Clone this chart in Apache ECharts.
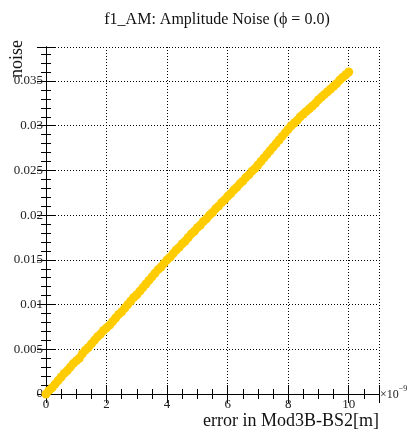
<!DOCTYPE html>
<html>
<head>
<meta charset="utf-8">
<script src="https://cdn.jsdelivr.net/npm/echarts@6/dist/echarts.min.js"></script>
<style>
  html, body { margin: 0; padding: 0; background: #fff; }
  #chart { width: 408px; height: 433px; }
</style>
</head>
<body>
<div id="chart"></div>
<script>
// values (x in units of 1e-9 m)
const xVals = [
  0.0, 0.1, 0.2, 0.3, 0.4, 0.5, 0.6, 0.7, 0.8, 0.9,
  1.0, 1.1, 1.2, 1.3, 1.4, 1.5, 1.6, 1.7, 1.8, 1.9,
  2.0, 2.1, 2.2, 2.3, 2.4, 2.5, 2.6, 2.7, 2.8, 2.9,
  3.0, 3.1, 3.2, 3.3, 3.4, 3.5, 3.6, 3.7, 3.8, 3.9,
  4.0, 4.1, 4.2, 4.3, 4.4, 4.5, 4.6, 4.7, 4.8, 4.9,
  5.0, 5.1, 5.2, 5.3, 5.4, 5.5, 5.6, 5.7, 5.8, 5.9,
  6.0, 6.1, 6.2, 6.3, 6.4, 6.5, 6.6, 6.7, 6.8, 6.9,
  7.0, 7.1, 7.2, 7.3, 7.4, 7.5, 7.6, 7.7, 7.8, 7.9,
  8.0, 8.1, 8.2, 8.3, 8.4, 8.5, 8.6, 8.7, 8.8, 8.9,
  9.0, 9.1, 9.2, 9.3, 9.4, 9.5, 9.6, 9.7, 9.8, 9.9,
  10.0
];
const noiseVals = [
  0.0000, 0.0004, 0.0007, 0.0011, 0.0015, 0.0019, 0.0023, 0.0026, 0.0030, 0.0034,
  0.0037, 0.0040, 0.0045, 0.0049, 0.0052, 0.0056, 0.0060, 0.0064, 0.0067, 0.0071,
  0.0074, 0.0077, 0.0081, 0.0085, 0.0089, 0.0092, 0.0096, 0.0100, 0.0104, 0.0108,
  0.0111, 0.0115, 0.0119, 0.0123, 0.0127, 0.0131, 0.0135, 0.0139, 0.0142, 0.0146,
  0.0150, 0.0153, 0.0157, 0.0161, 0.0164, 0.0168, 0.0171, 0.0175, 0.0179, 0.0182,
  0.0186, 0.0189, 0.0193, 0.0196, 0.0200, 0.0203, 0.0207, 0.0210, 0.0214, 0.0217,
  0.0221, 0.0224, 0.0228, 0.0231, 0.0235, 0.0238, 0.0242, 0.0245, 0.0249, 0.0252,
  0.0256, 0.0260, 0.0264, 0.0268, 0.0272, 0.0276, 0.0280, 0.0284, 0.0288, 0.0292,
  0.0296, 0.0300, 0.0303, 0.0306, 0.0310, 0.0313, 0.0316, 0.0319, 0.0322, 0.0325,
  0.0329, 0.0332, 0.0335, 0.0338, 0.0341, 0.0344, 0.0347, 0.0351, 0.0354, 0.0357,
  0.0360
];
const xTicks = [0, 2, 4, 6, 8, 10];
const yTicks = [0, 0.005, 0.01, 0.015, 0.02, 0.025, 0.03, 0.035];

const FONT = "'Liberation Serif', 'DejaVu Serif', serif";
const X_MAX = 11;
const Y_MAX = 0.0388;

const chart = echarts.init(document.getElementById("chart"), null, { renderer: "canvas" });

const gridBox = { left: 46, right: 29, top: 47, bottom: 39, outerBoundsMode: "none" };
const dotted = { color: "#000", width: 1, type: [1, 2] };

// major axis (labels, grid lines, long ticks)
function majorX(pos, labels) {
  return {
    type: "value", gridIndex: 0, position: pos, min: 0, max: X_MAX, interval: 2,
    axisLine: { show: true, lineStyle: { color: "#000", width: 1 } },
    axisTick: { show: true, inside: true, length: 9, lineStyle: { color: "#000" } },
    splitLine: { show: labels, lineStyle: dotted },
    axisLabel: {
      show: labels, margin: 4, color: "#222", fontFamily: FONT, fontSize: 13,
      formatter: (v) => (xTicks.indexOf(v) >= 0 ? String(v) : ""),
    },
  };
}
function majorY(pos, labels) {
  return {
    type: "value", gridIndex: 0, position: pos, min: 0, max: Y_MAX, interval: 0.005,
    axisLine: { show: true, lineStyle: { color: "#000", width: 1 } },
    axisTick: { show: true, inside: true, length: 9, lineStyle: { color: "#000" } },
    splitLine: { show: labels, lineStyle: dotted },
    axisLabel: {
      show: labels, margin: 3, color: "#222", fontFamily: FONT, fontSize: 13,
      formatter: (v) => {
        const r = +v.toFixed(3);
        return yTicks.indexOf(r) >= 0 && v <= 0.0351 ? String(r) : "";
      },
    },
  };
}
// minor ticks live on a second, identical grid
function minorX(pos) {
  return {
    type: "value", gridIndex: 1, position: pos, min: 0, max: X_MAX, interval: 0.5,
    axisLine: { show: false },
    axisTick: { show: true, inside: true, length: 5, lineStyle: { color: "#000" } },
    splitLine: { show: false }, axisLabel: { show: false },
  };
}
function minorY(pos) {
  return {
    type: "value", gridIndex: 1, position: pos, min: 0, max: Y_MAX, interval: 0.001,
    axisLine: { show: false },
    axisTick: { show: true, inside: true, length: 5, lineStyle: { color: "#000" } },
    splitLine: { show: false }, axisLabel: { show: false },
  };
}

const option = {
  backgroundColor: "#fff",
  animation: false,
  title: {
    text: "f1_AM: Amplitude Noise (\u03d5 = 0.0)",
    left: 212, top: 7, textAlign: "center",
    textStyle: { fontFamily: FONT, fontSize: 16, fontWeight: "normal", color: "#111" },
  },
  grid: [Object.assign({}, gridBox), Object.assign({}, gridBox)],
  xAxis: [majorX("bottom", true), majorX("top", false), minorX("bottom"), minorX("top")],
  yAxis: [majorY("left", true), majorY("right", false), minorY("left"), minorY("right")],
  series: [
    {
      type: "scatter",
      xAxisIndex: 0, yAxisIndex: 0,
      symbol: "circle", symbolSize: 9,
      itemStyle: { color: "#ffcc00", opacity: 1 },
      data: xVals.map((x, i) => [x, noiseVals[i]]),
      z: 5,
    },
  ],
  graphic: [
    {
      type: "text", x: 17, y: 40, rotation: Math.PI / 2,
      style: { text: "noise", font: "18px " + FONT, fill: "#111", align: "right", verticalAlign: "middle" },
    },
    {
      type: "text", x: 379, y: 421,
      style: { text: "error in Mod3B-BS2[m]", font: "18px " + FONT, fill: "#111", align: "right", verticalAlign: "middle" },
    },
    {
      type: "text", x: 380, y: 393,
      style: {
        text: "{a|\u00d710}{b|\u22129}",
        align: "left", verticalAlign: "middle",
        rich: {
          a: { fontFamily: FONT, fontSize: 12, fill: "#222", verticalAlign: "bottom" },
          b: { fontFamily: FONT, fontSize: 8, fill: "#222", padding: [0, 0, 8, 0] },
        },
      },
    },
  ],
};

chart.setOption(option);
</script>
</body>
</html>
